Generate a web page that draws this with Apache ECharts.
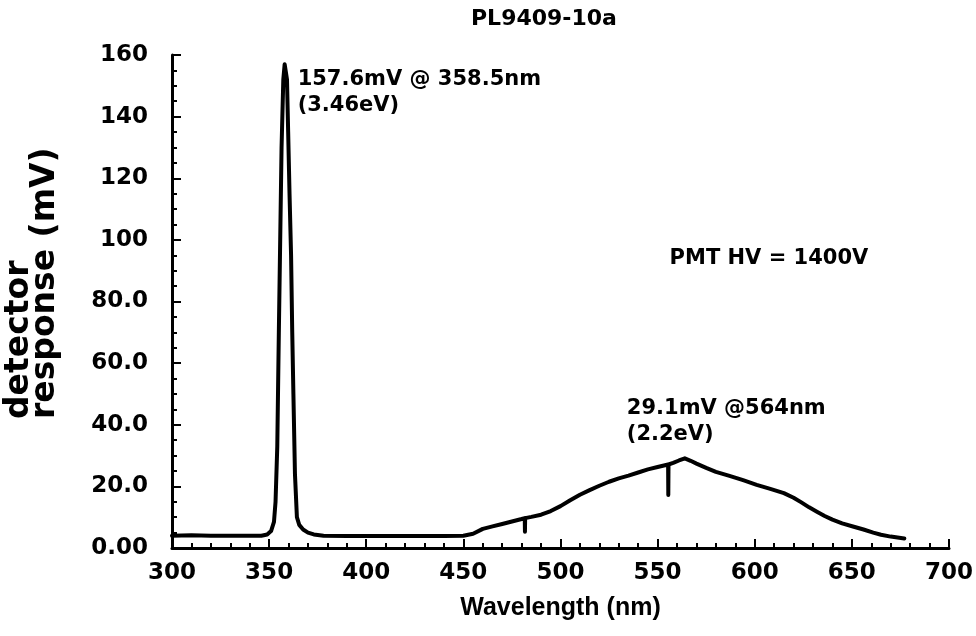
<!DOCTYPE html>
<html>
<head>
<meta charset="utf-8">
<title>PL9409-10a</title>
<script src="https://cdn.jsdelivr.net/npm/echarts@6/dist/echarts.min.js"></script>
<style>
  html, body { margin: 0; padding: 0; background: #fff; }
  #chart { width: 976px; height: 636px; }
</style>
</head>
<body>
<div id="chart"></div>
<script>
// Photoluminescence spectrum of sample PL9409-10a (PMT at 1400 V).
// UV segment: flat background, sharp band-edge peak, back to background.
const uvWavelength = [300, 310, 320, 330, 340, 346, 349, 351, 352.5, 353.3, 354.2, 355, 355.7, 356.4, 357.3, 358, 358.5,
  359.2, 359.8, 360.5, 361.3, 361.9, 362.5, 363.3, 364.3, 365.5, 367.5, 370, 373, 378, 390, 400, 420, 440];
const uvResponse = [4.0, 4.1, 4.0, 4.0, 4.0, 4.0, 4.4, 5.5, 8.5, 15, 33, 70, 100, 130, 152, 157, 157.6,
  152, 135, 115, 95, 70, 50, 24, 10, 7.5, 6.0, 5.0, 4.4, 4.0, 3.9, 3.9, 3.9, 3.9];

// Visible segment: broad deep-level emission band.
const visWavelength = [450, 455, 460, 465, 470, 475, 480, 481.6, 481.7, 481.8, 485, 490, 495, 500, 505, 510, 515, 520,
  525, 530, 535, 540, 545, 550, 555.4, 555.5, 555.6, 558, 561, 564, 567, 570, 575, 580, 587, 594, 601, 608,
  615, 620, 624, 628, 632, 636, 640, 645, 651, 656, 661, 665, 670, 677];
const visResponse = [4.0, 4.6, 6.2, 7.0, 7.8, 8.6, 9.4, 9.7, 5.3, 9.7, 10.1, 10.8, 12.0, 13.6, 15.5, 17.3, 18.8, 20.2,
  21.5, 22.6, 23.5, 24.5, 25.5, 26.3, 27.1, 17.2, 27.1, 27.6, 28.4, 29.1, 28.3, 27.4, 26.0, 24.7, 23.4, 22.0, 20.5, 19.2,
  17.8, 16.3, 14.8, 13.2, 11.8, 10.4, 9.2, 8.0, 6.9, 6.0, 5.0, 4.3, 3.7, 3.1];

// Axis ranges and tick steps
const xRange = [300, 700];
const xStep = 50;
const yRange = [0, 160];
const yStep = 20;

// Peak annotations: [wavelength nm, response mV, first line, second line]
const peakNotes = [
  [358.5, 157.6, '157.6mV @ 358.5nm', '(3.46eV)'],
  [564, 29.1, '29.1mV @564nm', '(2.2eV)']
];
const chartTitle = 'PL9409-10a';
const hvNote = 'PMT HV = 1400V';
const xName = 'Wavelength (nm)';
const yName = 'detector\nresponse (mV)';

const spectrum = uvWavelength.map((w, i) => [w, uvResponse[i]])
  .concat(visWavelength.map((w, i) => [w, visResponse[i]]));

const boldFont = 'DejaVu Sans';
const ink = '#000';

const chart = echarts.init(document.getElementById('chart'), null, { renderer: 'canvas' });

chart.setOption({
  animation: false,
  backgroundColor: '#fff',
  title: {
    text: chartTitle,
    left: 466,
    top: 3,
    textStyle: { fontFamily: boldFont, fontWeight: 'bold', fontSize: 22, color: ink }
  },
  grid: { left: 172, right: 27, top: 55, bottom: 88, containLabel: false },
  xAxis: {
    type: 'value',
    min: xRange[0],
    max: xRange[1],
    interval: xStep,
    name: xName,
    nameLocation: 'middle',
    nameGap: 48,
    nameTextStyle: { fontFamily: 'Liberation Sans', fontWeight: 'bold', fontSize: 25, color: ink },
    axisLine: { lineStyle: { color: ink, width: 3 } },
    axisTick: { inside: true, length: 9, lineStyle: { color: ink, width: 2 } },
    minorTick: { show: true, splitNumber: 5, length: 5, lineStyle: { color: ink, width: 2 } },
    splitLine: { show: false },
    axisLabel: {
      margin: 14,
      fontFamily: boldFont, fontWeight: 'bold', fontSize: 23, color: ink
    }
  },
  yAxis: {
    type: 'value',
    min: yRange[0],
    max: yRange[1],
    interval: yStep,
    axisLine: { show: true, lineStyle: { color: ink, width: 3 } },
    axisTick: { show: true, inside: true, length: 9, lineStyle: { color: ink, width: 2 } },
    minorTick: { show: true, splitNumber: 4, length: 5, lineStyle: { color: ink, width: 2 } },
    splitLine: { show: false },
    axisLabel: {
      margin: 24,
      formatter: v => v.toPrecision(3),
      fontFamily: boldFont, fontWeight: 'bold', fontSize: 23, color: ink
    }
  },
  series: [{
    type: 'line',
    data: spectrum,
    showSymbol: false,
    symbol: 'none',
    lineStyle: { color: ink, width: 4, join: 'round', cap: 'round' }
  }]
});

// Text annotations anchored to the data coordinates of each peak
function noteText(x, y, text) {
  return {
    type: 'text',
    x: x,
    y: y,
    silent: true,
    style: {
      text: text,
      fill: ink,
      font: 'bold 21px "' + boldFont + '"',
      lineHeight: 26,
      textAlign: 'left',
      textVerticalAlign: 'top'
    }
  };
}

const graphics = [];
const noteOffsets = [[12, 4], [-58, -63]];
peakNotes.forEach((n, i) => {
  const p = chart.convertToPixel({ gridIndex: 0 }, [n[0], n[1]]);
  graphics.push(noteText(p[0] + noteOffsets[i][0], p[1] + noteOffsets[i][1], n[2] + '\n' + n[3]));
});
const hvPos = chart.convertToPixel({ gridIndex: 0 }, [550, 100]);
graphics.push(noteText(hvPos[0] + 12, hvPos[1] + 6, hvNote));

// Two-line y-axis name, reading bottom to top
graphics.push({
  type: 'text',
  x: 6,
  y: 419,
  rotation: Math.PI / 2,
  silent: true,
  style: {
    text: yName,
    fill: ink,
    font: 'bold 33px "' + boldFont + '"',
    lineHeight: 26,
    textAlign: 'left',
    textVerticalAlign: 'top'
  }
});

chart.setOption({ graphic: graphics });
</script>
</body>
</html>
